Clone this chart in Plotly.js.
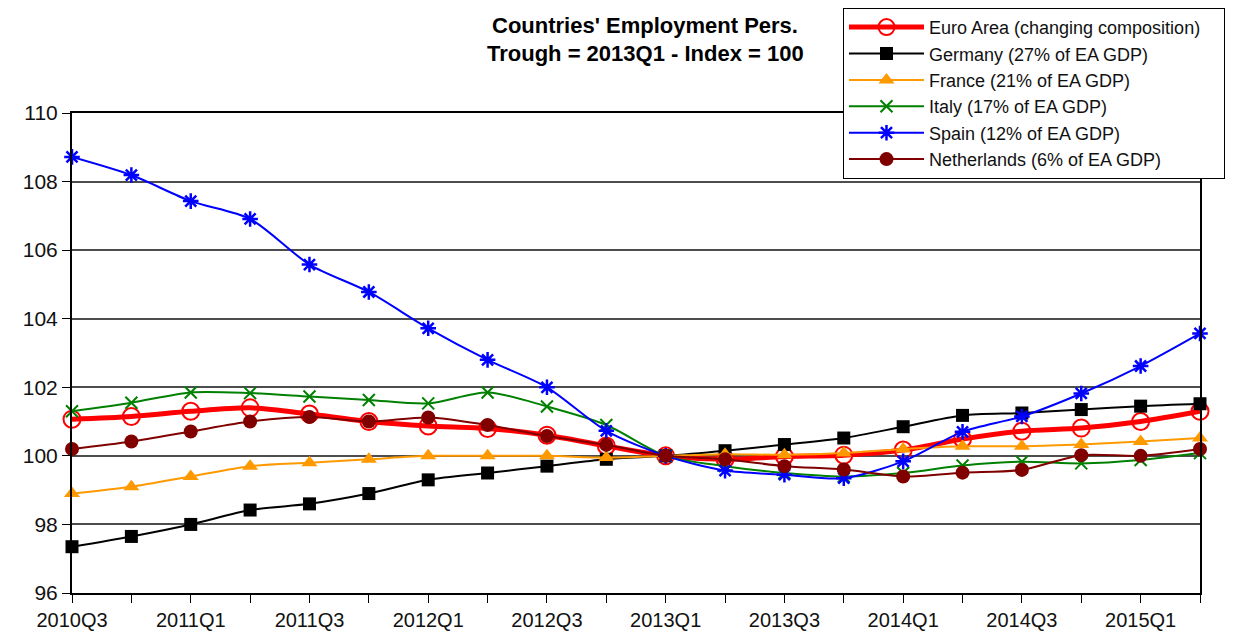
<!DOCTYPE html>
<html>
<head>
<meta charset="utf-8">
<script src="https://cdn.plot.ly/plotly-3.0.1.min.js"></script>
<style>html,body{margin:0;padding:0;background:#fff;}#chart{width:1233px;height:640px;}</style>
</head>
<body>
<div id="chart"></div>
<script>
const quarters = ["2010Q3","2010Q4","2011Q1","2011Q2","2011Q3","2011Q4","2012Q1","2012Q2","2012Q3","2012Q4",
                  "2013Q1","2013Q2","2013Q3","2013Q4","2014Q1","2014Q2","2014Q3","2014Q4","2015Q1","2015Q2"];
const euroArea    = [101.07,101.15,101.3,101.4,101.22,101.0,100.87,100.8,100.6,100.29,100.0,99.9,99.98,100.02,100.17,100.49,100.72,100.81,101.0,101.3];
const germany     = [97.35,97.65,98.0,98.42,98.6,98.9,99.3,99.5,99.7,99.9,100.0,100.15,100.33,100.52,100.85,101.18,101.25,101.35,101.45,101.52];
const france      = [98.9,99.1,99.4,99.7,99.8,99.9,100.0,100.0,100.0,99.95,100.0,100.05,100.03,100.08,100.2,100.28,100.28,100.33,100.42,100.52];
const italy       = [101.3,101.55,101.85,101.83,101.73,101.63,101.53,101.85,101.44,100.9,100.0,99.7,99.5,99.4,99.5,99.72,99.83,99.78,99.88,100.08];
const spain       = [108.72,108.19,107.43,106.91,105.58,104.78,103.72,102.8,102.0,100.73,100.0,99.57,99.45,99.35,99.84,100.7,101.15,101.82,102.62,103.57];
const netherlands = [100.2,100.42,100.71,101.0,101.13,101.0,101.12,100.9,100.58,100.32,100.0,99.9,99.7,99.6,99.4,99.51,99.59,100.02,100.0,100.2];
const seriesNames = ["Euro Area (changing composition)\u2002\u2002","Germany (27% of EA GDP)","France (21% of EA GDP)",
                     "Italy (17% of EA GDP)","Spain (12% of EA GDP)","Netherlands (6% of EA GDP)"];
const titleLines = ["Countries' Employment Pers.", "Trough = 2013Q1 - Index = 100"];
const tickLabels = quarters.map((q,i)=> i%2===0 ? q : "");

function tr(name, y, color, width, symbol, msize, mline, group){
  return {
    type:"scatter", mode:"lines+markers", x:quarters, y:y, name:name, legendgroup:group,
    cliponaxis:false,
    line:{color:color, width:width, shape:"spline", smoothing:0.8},
    marker:{symbol:symbol, size:msize, color:color, line:{color:color, width:mline}}
  };
}
const data = [
  tr(seriesNames[0], euroArea, "#FF0000", 5, "circle-open", 17, 2, "g0"),
  tr(seriesNames[1], germany, "#000000", 2, "square", 13, 0, "g1"),
  tr(seriesNames[2], france, "#FF9900", 2, "triangle-up", 14, 0, "g2"),
  tr(seriesNames[3], italy, "#008000", 2, "x-thin-open", 12, 2, "g3"),
  tr(seriesNames[4], spain, "#0000FF", 2, "asterisk-open", 13, 2.5, "g4"),
  tr(seriesNames[5], netherlands, "#800000", 2, "circle", 14, 0, "g5")
];
const titleFont = {size:22, family:"Liberation Sans, Arial, sans-serif", weight:"bold", color:"#000"};
const layout = {
  width:1233, height:640,
  margin:{l:72, r:33, t:113, b:47, autoexpand:false},
  paper_bgcolor:"#fff", plot_bgcolor:"#fff",
  font:{family:"Liberation Sans, Arial, sans-serif", color:"#111"},
  annotations:[
    {text:titleLines[0], xref:"paper", yref:"paper", x:0.508, y:1.182, xanchor:"center", yanchor:"middle", showarrow:false, font:titleFont},
    {text:titleLines[1], xref:"paper", yref:"paper", x:0.508, y:1.124, xanchor:"center", yanchor:"middle", showarrow:false, font:titleFont}
  ],
  xaxis:{type:"category", range:[0,19], tickmode:"array", tickvals:quarters, ticktext:tickLabels,
         ticks:"outside", ticklen:8, tickwidth:1, tickcolor:"#000", tickangle:0,
         showline:true, linecolor:"#000", linewidth:2, mirror:true, showgrid:false, zeroline:false,
         tickfont:{size:20, color:"#111"}},
  yaxis:{range:[96,110], dtick:2, tick0:96, ticks:"outside", ticklen:8, tickcolor:"#000",
         showline:true, linecolor:"#000", linewidth:2, mirror:true,
         showgrid:true, gridcolor:"#4d4d4d", gridwidth:1.5, zeroline:false,
         tickfont:{size:21, color:"#111"}},
  showlegend:true,
  legend:{x:0.6835, xanchor:"left", y:1.219, yanchor:"top", bgcolor:"#fff",
          bordercolor:"#000", borderwidth:1, tracegroupgap:5, traceorder:"normal",
          itemwidth:75, font:{size:18, color:"#111"}}
};
Plotly.newPlot("chart", data, layout, {displayModeBar:false});
</script>
</body>
</html>
